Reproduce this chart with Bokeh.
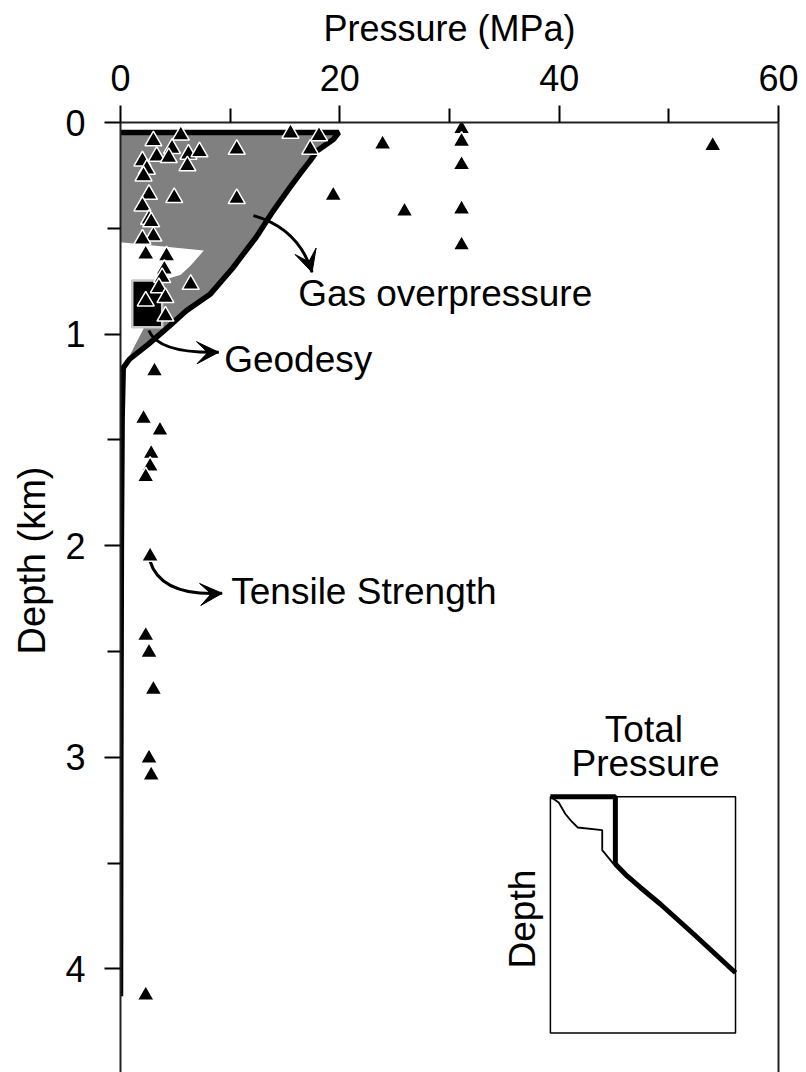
import math
from bokeh.plotting import figure
from bokeh.models import Range1d, FixedTicker, LinearAxis, Label, Arrow, VeeHead, Title
from bokeh.embed import file_html
from bokeh.resources import INLINE

FONT = "Liberation Sans"

# ---------------- data ----------------
# gas overpressure field (pressure MPa, depth km)
gas_p = [0, 19.9, 19.4, 17.9, 17.3, 16.4, 15.4, 13.9, 12.4, 11.0, 10.2, 8.2, 6.0, 4.5, 2.5, 0.8, 0.25,
         2.1, 3.8, 5.5, 6.4, 7.6, 0]
gas_d = [0.047, 0.047, 0.08, 0.135, 0.18, 0.24, 0.31, 0.42, 0.54, 0.635, 0.69, 0.81, 0.89, 0.96, 1.05, 1.12, 1.16,
         0.975, 0.747, 0.72, 0.676, 0.605, 0.566]

# total-pressure / tensile-strength boundary
bound_p = [0, 19.9, 19.4, 17.9, 17.3, 16.4, 15.4, 13.9, 12.4, 11.0, 10.2, 8.2, 6.0, 4.5, 2.5, 0.8, 0.25,
           0.15, 0.08, 0.03, 0.0]
bound_d = [0.047, 0.047, 0.08, 0.135, 0.18, 0.24, 0.31, 0.42, 0.54, 0.635, 0.69, 0.81, 0.89, 0.96, 1.05, 1.12, 1.16,
           1.4, 2.0, 3.0, 4.13]

# geodesy estimate box
geo_p = [1.07, 3.8]
geo_d = [0.747, 0.968]

# measurements (triangles)
tri_p = [3.0, 5.5, 4.7, 3.3, 4.4, 6.2, 7.2, 6.1, 2.0, 2.4, 2.1, 2.6, 4.9, 2.0, 2.6, 2.8, 3.0, 2.0,
         10.6, 10.6, 15.5, 18.1, 17.3, 2.3, 4.2, 4.0, 3.8, 3.5, 6.4, 2.3, 4.1, 4.1,
         23.9, 31.1, 31.1, 31.1, 31.1, 31.1, 54.0, 19.4, 25.9,
         3.1, 2.1, 3.6, 2.8, 2.7, 2.3,
         2.7, 2.3, 2.6, 3.0, 2.6, 2.8, 2.3]
tri_d = [0.087, 0.06, 0.123, 0.16, 0.166, 0.15, 0.139, 0.205, 0.182, 0.221, 0.253, 0.34, 0.355, 0.395, 0.458, 0.47, 0.537, 0.552,
         0.127, 0.36, 0.051, 0.063, 0.127, 0.623, 0.631, 0.694, 0.733, 0.781, 0.765, 0.844, 0.828, 0.915,
         0.103, 0.03, 0.09, 0.20, 0.41, 0.58, 0.11, 0.345, 0.42,
         1.175, 1.40, 1.455, 1.565, 1.625, 1.675,
         2.05, 2.425, 2.505, 2.68, 3.005, 3.085, 4.125]

# inset: schematic total pressure (normalised units)
inset_thick_x = [0, 0.351, 0.351, 0.414, 0.486, 0.595, 0.775, 1.0]
inset_thick_y = [0, 0, 0.285, 0.335, 0.384, 0.455, 0.582, 0.745]
inset_thin_x = [0, 0.045, 0.081, 0.112, 0.148, 0.280, 0.280, 0.342]
inset_thin_y = [0, 0.024, 0.073, 0.102, 0.130, 0.141, 0.226, 0.285]

x_ticks = [0, 20, 40, 60]
x_minor = [10, 30, 50]
y_ticks = [0, 1, 2, 3, 4]
y_minor = [0.5, 1.5, 2.5, 3.5]

# ---------------- layout ----------------
X0, X1 = 0, 60
Y_BOTTOM, Y_TOP = 4.49, 0
# inset placement in main data units
IX0, IX1, IY0, IY1 = 39.2, 56.08, 3.187, 4.303

p = figure(width=798, height=1072, x_range=Range1d(X0, X1), y_range=Range1d(Y_BOTTOM, Y_TOP),
           x_axis_location="above", output_backend="svg", toolbar_location=None,
           min_border_left=120, min_border_right=20, min_border_top=122, min_border_bottom=0)
p.outline_line_color = None
p.grid.visible = False
p.background_fill_color = "white"

p.extra_x_ranges = {"inset": Range1d((X0 - IX0) / (IX1 - IX0), (X1 - IX0) / (IX1 - IX0))}
p.extra_y_ranges = {"inset": Range1d((Y_BOTTOM - IY0) / (IY1 - IY0), (Y_TOP - IY0) / (IY1 - IY0))}

def style_axis(ax, major_out, minor_out):
    ax.axis_line_width = 2
    ax.axis_line_color = "#222222"
    ax.major_tick_line_width = 2
    ax.minor_tick_line_width = 2
    ax.major_tick_line_color = "black"
    ax.minor_tick_line_color = "black"
    ax.major_tick_in = 0
    ax.minor_tick_in = 0
    ax.major_tick_out = major_out
    ax.minor_tick_out = minor_out
    ax.major_label_text_font = FONT
    ax.major_label_text_font_size = "36px"
    ax.major_label_text_color = "black"
    ax.axis_label_text_font = FONT
    ax.axis_label_text_font_size = "36px"
    ax.axis_label_text_font_style = "normal"
    ax.axis_label_text_color = "black"

xa = p.xaxis[0]
xa.ticker = FixedTicker(ticks=x_ticks, minor_ticks=x_minor)
style_axis(xa, 17, 14)
xa.axis_label = "Pressure (MPa)"
xa.major_label_standoff = 15
xa.axis_label_standoff = 13

ya = p.yaxis[0]
ya.ticker = FixedTicker(ticks=y_ticks, minor_ticks=y_minor)
style_axis(ya, 16, 13)
ya.major_label_standoff = 19

ra = LinearAxis(ticker=FixedTicker(ticks=[]), major_tick_out=0, minor_tick_out=0,
                major_label_standoff=0, axis_line_width=2, axis_line_color="#222222",
                major_label_text_font_size="0px")
p.add_layout(ra, "right")

p.add_layout(Title(text="Depth (km)", align="right", offset=344, vertical_align="top",
                   text_font=FONT, text_font_size="38px", text_font_style="normal",
                   text_color="black", standoff=16), "left")

# ---------------- marks ----------------
p.patch(gas_p, gas_d, fill_color="#808080", line_color=None)
p.line(bound_p, bound_d, line_color="black", line_width=5.5)
p.quad(left=[geo_p[0]], right=[geo_p[1]], top=[geo_d[0]], bottom=[geo_d[1]],
       fill_color="black", line_color="#c8c8c8", line_width=2.5)

# curved arrows: (x0, y0, cx, cy, x1, y1)
arrows = [
    (12.12, 0.44, 16.23, 0.50, 17.47, 0.708),
    (2.58, 0.983, 3.46, 1.092, 8.96, 1.086),
    (2.67, 2.07, 3.65, 2.241, 9.27, 2.225),
]
p.quadratic(x0=[a[0] for a in arrows], y0=[a[1] for a in arrows],
            cx=[a[2] for a in arrows], cy=[a[3] for a in arrows],
            x1=[a[4] for a in arrows], y1=[a[5] for a in arrows],
            line_color="black", line_width=3)
for a in arrows:
    p.add_layout(Arrow(end=VeeHead(size=22, fill_color="black", line_color="black", line_width=1),
                       x_start=a[2], y_start=a[3], x_end=a[4], y_end=a[5], line_alpha=0))

p.scatter(tri_p, tri_d, marker="triangle", size=17, fill_color="black",
          line_color="white", line_width=1.5)

# inset
p.quad(left=[0], right=[1], top=[0], bottom=[1], fill_color=None, line_color="black",
       line_width=1.5, x_range_name="inset", y_range_name="inset")
p.line(inset_thin_x, inset_thin_y, line_color="black", line_width=1.8,
       x_range_name="inset", y_range_name="inset")
p.line(inset_thick_x, inset_thick_y, line_color="black", line_width=5,
       x_range_name="inset", y_range_name="inset")

def lab(text, x, y, align="left", angle=0.0, rn=None):
    kw = {}
    if rn:
        kw = dict(x_range_name=rn, y_range_name=rn)
    p.add_layout(Label(x=x, y=y, text=text, text_font=FONT, text_font_size="37px",
                       text_color="black", text_align=align, text_baseline="alphabetic",
                       angle=angle, **kw))

lab("Gas overpressure", 16.2, 0.809)
lab("Geodesy", 9.45, 1.12)
lab("Tensile Strength", 10.1, 2.216)
lab("Total", 0.505, -0.287, align="center", rn="inset")
lab("Pressure", 0.514, -0.139, align="center", rn="inset")
lab("Depth", -0.148, 0.518, align="center", angle=math.pi / 2, rn="inset")

open("out.html", "w").write(file_html(p, INLINE))
